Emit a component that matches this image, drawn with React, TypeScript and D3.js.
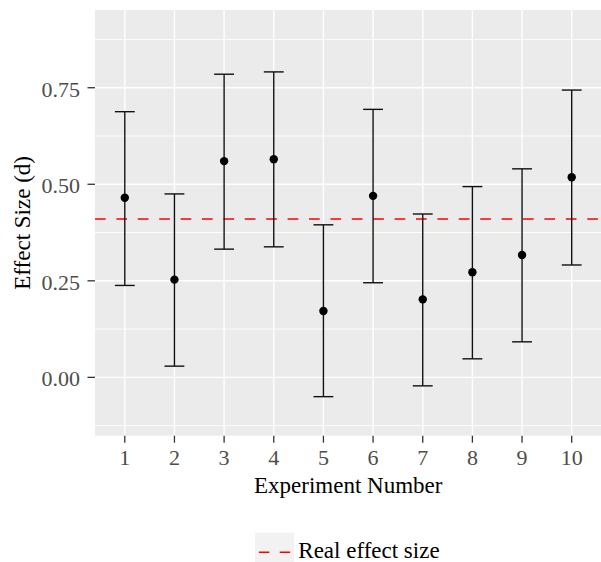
import React from "react";
import * as d3 from "d3";

const experiments = [1, 2, 3, 4, 5, 6, 7, 8, 9, 10];
const effectSizes = [0.465, 0.253, 0.56, 0.565, 0.172, 0.47, 0.202, 0.272, 0.317, 0.518];
const lowerCI = [0.238, 0.029, 0.332, 0.338, -0.05, 0.245, -0.022, 0.048, 0.092, 0.291];
const upperCI = [0.688, 0.475, 0.785, 0.791, 0.395, 0.694, 0.423, 0.494, 0.54, 0.744];
const realEffect = 0.41;
const yTicks = [0, 0.25, 0.5, 0.75];
const yMinorTicks = [-0.125, 0.125, 0.375, 0.625, 0.875];
const xLabel = "Experiment Number";
const yLabel = "Effect Size (d)";
const legendLabel = "Real effect size";

const W = 601;
const H = 562;
const left = 95;
const top = 10;
const right = 601.5;
const bottom = 435.7;
const font = "'Liberation Serif', 'Times New Roman', serif";

export default function App() {
  const x = d3.scaleLinear().domain([0.4, 10.6]).range([left, right]);
  const y = d3.scaleLinear().domain([-0.1511, 0.9513]).range([bottom, top]);
  const capHalf = x(1.2) - x(1);
  const fmt = d3.format(".2f");

  return (
    <svg
      width={W}
      height={H}
      style={{ position: "absolute", left: 0, top: 0, background: "#fff" }}
      fontFamily={font}
    >
      <rect x={left} y={top} width={right - left} height={bottom - top} fill="#ebebeb" />
      {yMinorTicks.map((t) => (
        <line key={"mn" + t} x1={left} x2={right} y1={y(t)} y2={y(t)} stroke="#fff" strokeWidth={0.9} />
      ))}
      {yTicks.map((t) => (
        <line key={"mj" + t} x1={left} x2={right} y1={y(t)} y2={y(t)} stroke="#fff" strokeWidth={1.4} />
      ))}
      {experiments.map((e) => (
        <line key={"vx" + e} x1={x(e)} x2={x(e)} y1={top} y2={bottom} stroke="#fff" strokeWidth={1.4} />
      ))}
      <line
        x1={left}
        x2={right}
        y1={y(realEffect)}
        y2={y(realEffect)}
        stroke="#ff0000"
        strokeWidth={1.4}
        strokeDasharray="10.7 10.7"
      />
      {experiments.map((e, i) => (
        <g key={"eb" + e} stroke="#111" strokeWidth={1.4}>
          <line x1={x(e)} x2={x(e)} y1={y(lowerCI[i])} y2={y(upperCI[i])} />
          <line x1={x(e) - capHalf} x2={x(e) + capHalf} y1={y(lowerCI[i])} y2={y(lowerCI[i])} />
          <line x1={x(e) - capHalf} x2={x(e) + capHalf} y1={y(upperCI[i])} y2={y(upperCI[i])} />
        </g>
      ))}
      {experiments.map((e, i) => (
        <circle key={"pt" + e} cx={x(e)} cy={y(effectSizes[i])} r={4.2} fill="#000" />
      ))}
      {yTicks.map((t) => (
        <g key={"yt" + t}>
          <line x1={left - 7.5} x2={left} y1={y(t)} y2={y(t)} stroke="#333" strokeWidth={1.3} />
          <text x={80} y={y(t) + 9} textAnchor="end" fontSize={22} fill="#4d4d4d">
            {fmt(t)}
          </text>
        </g>
      ))}
      {experiments.map((e) => (
        <g key={"xt" + e}>
          <line x1={x(e)} x2={x(e)} y1={bottom} y2={bottom + 7} stroke="#333" strokeWidth={1.3} />
          <text x={x(e)} y={465} textAnchor="middle" fontSize={22} fill="#4d4d4d">
            {e}
          </text>
        </g>
      ))}
      <text x={(left + right) / 2} y={493.3} textAnchor="middle" fontSize={23} fill="#000">
        {xLabel}
      </text>
      <text
        transform={`translate(30, ${(top + bottom) / 2}) rotate(-90)`}
        textAnchor="middle"
        fontSize={23}
        fill="#000"
      >
        {yLabel}
      </text>
      <rect x={255} y={532.7} width={39} height={34} fill="#f2f2f2" />
      <line x1={258.9} x2={290.1} y1={552.3} y2={552.3} stroke="#ff0000" strokeWidth={1.4} strokeDasharray="10.4 10.4" />
      <text x={298.3} y={557.5} fontSize={23} fill="#000">
        {legendLabel}
      </text>
    </svg>
  );
}
